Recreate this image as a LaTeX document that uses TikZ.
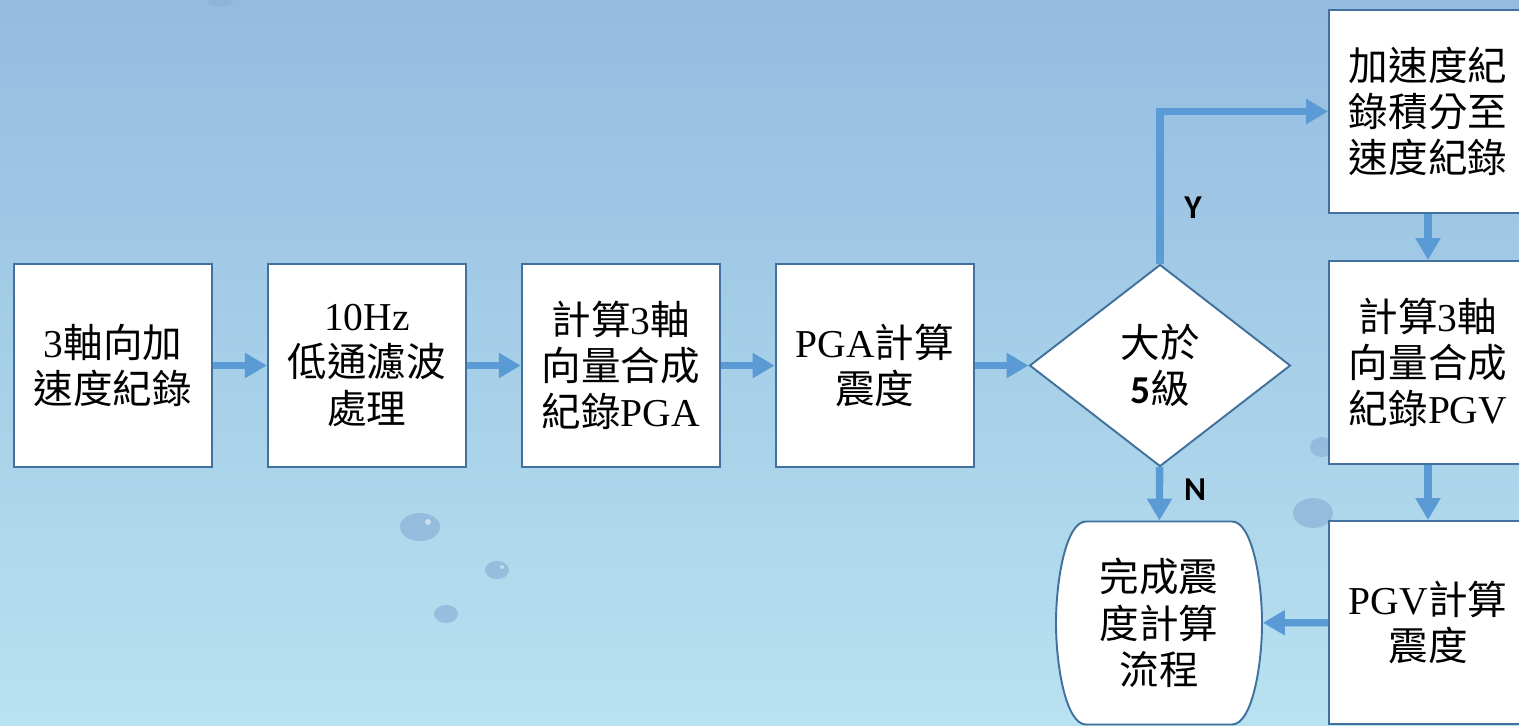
\documentclass[tikz,border=0pt]{standalone}
\usepackage{fontspec}
\setmainfont{Liberation Serif}
\newfontfamily\zhfont{Noto Sans CJK TC}
\newfontfamily\labfont{Carlito}
\newcommand{\zh}[1]{{\zhfont #1}}
\usetikzlibrary{positioning,shapes.geometric,arrows.meta}
\definecolor{flowblue}{HTML}{5B9BD5}
\definecolor{edgeblue}{HTML}{41719C}
\definecolor{bgtop}{HTML}{94BCE0}
\definecolor{bgmid}{HTML}{A0CDE6}
\definecolor{bgbot}{HTML}{B8E2F0}
\definecolor{dropblue}{HTML}{8DB4D9}
\tikzset{
  stepbox/.style={draw=edgeblue,line width=1.1pt,fill=white,minimum width=3.96cm,
    minimum height=4.06cm,align=center,font=\fontsize{22.5}{26.4}\selectfont},
  decide/.style={stepbox,diamond,shape aspect=1.29,minimum width=5.22cm,
    minimum height=4.04cm,inner sep=0pt},
  finish/.style={stepbox,draw=none,fill=none,minimum width=4.12cm},
  flow/.style={draw=flowblue,line width=4.2pt,-{Triangle[length=12.5pt 0,width=13.6pt 0]}},
  yn/.style={font=\labfont\bfseries\fontsize{19}{22}\selectfont},
  drop/.style={fill=dropblue,opacity=0.75}
}
\begin{document}
\begin{tikzpicture}[x=0.02cm,y=-0.02cm]
\useasboundingbox (0,0) rectangle (1519,725);
\clip (0,0) rectangle (1519,725);
\shade[top color=bgtop,middle color=bgmid,bottom color=bgbot] (0,0) rectangle (1519,725);
% water drops
\fill[drop] (420,527) ellipse (20 and 14);
\fill[drop] (497,570) ellipse (12 and 9);
\fill[drop] (446,614) ellipse (12 and 9);
\fill[drop] (1313,513) ellipse (20 and 15);
\fill[drop] (1322,447) ellipse (12 and 10);
\fill[drop] (220,0) ellipse (14 and 7);
\fill[white,opacity=0.5] (428,522) circle (3);
\fill[white,opacity=0.5] (502,567) circle (2);
% end of flow outline
\draw[edgeblue,line width=1.1pt,fill=white] (1086,521.5) -- (1232,521.5)
  .. controls (1252,521.5) and (1262,580) .. (1262,623)
  .. controls (1262,666) and (1252,724.5) .. (1232,724.5) -- (1086,724.5)
  .. controls (1066,724.5) and (1056,666) .. (1056,623)
  .. controls (1056,580) and (1066,521.5) .. cycle;
% main row
\node[stepbox] (acc) at (113,365.5) {3\zh{軸向加}\\\zh{速度紀錄}};
\node[stepbox,right=1.08cm of acc] (lpf) {10Hz\\\zh{低通濾波}\\\zh{處理}};
\node[stepbox,right=1.08cm of lpf] (vpga) {\zh{計算}3\zh{軸}\\\zh{向量合成}\\\zh{紀錄}PGA};
\node[stepbox,right=1.08cm of vpga] (ipga) {PGA\zh{計算}\\\zh{震度}};
\node[decide,right=1.08cm of ipga] (big) {\zh{大於}\\{\labfont\bfseries 5}\zh{級}};
% right column
\node[stepbox] (integ) at (1428,111.5) {\zh{加速度紀}\\\zh{錄積分至}\\\zh{速度紀錄}};
\node[stepbox] (vpgv) at (1428,362.5) {\zh{計算}3\zh{軸}\\\zh{向量合成}\\\zh{紀錄}PGV};
\node[stepbox] (ipgv) at (1428,622.5) {PGV\zh{計算}\\\zh{震度}};
\node[finish] (done) at (1159,623) {\zh{完成震}\\\zh{度計算}\\\zh{流程}};
\node[yn] (ylab) at (1193,208) {Y};
\node[yn] (nlab) at (1195,490) {N};
\draw[flow] (acc) -- (lpf);
\draw[flow] (lpf) -- (vpga);
\draw[flow] (vpga) -- (ipga);
\draw[flow] (ipga) -- (big);
\draw[flow] (big.north) |- (integ.west);
\draw[flow] (integ) -- (vpgv);
\draw[flow] (vpgv) -- (ipgv);
\draw[flow] (big) -- (done);
\draw[flow] (ipgv) -- (done);
\end{tikzpicture}
\end{document}
